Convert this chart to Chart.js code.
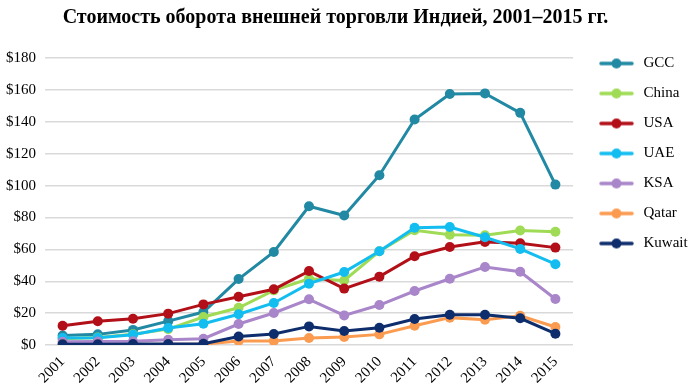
<!DOCTYPE html>
<html><head><meta charset="utf-8">
<script src="https://cdn.jsdelivr.net/npm/chart.js@4"></script>
<style>html,body{margin:0;padding:0;background:#fff}#wrap{width:693px;height:386px}</style>
</head><body><div id="wrap"><canvas id="c" width="693" height="386"></canvas></div>
<script>
const years = ['2001','2002','2003','2004','2005','2006','2007','2008','2009','2010','2011','2012','2013','2014','2015'];
const gcc    = [6, 6.7, 9.5, 15, 20.7, 41.4, 58.4, 87, 81.2, 106.5, 141.4, 157.4, 157.8, 145.6, 100.6];
const china  = [4, 4.8, 6.8, 10, 17.6, 23.4, 34.3, 41.6, 40.5, 58.8, 72, 69.2, 68.8, 71.8, 71.1];
const usa    = [12.1, 14.9, 16.5, 19.7, 25.5, 30.3, 35, 46.4, 35.4, 42.9, 55.7, 61.5, 64.7, 63.8, 61.1];
const uae    = [4.4, 4.6, 6.5, 10.7, 13.4, 19.3, 26.4, 38.5, 45.8, 58.8, 73.6, 74, 67.6, 60.3, 50.7];
const ksa    = [2, 2.2, 2.4, 3.3, 4, 13.2, 20.1, 28.7, 18.6, 25.1, 33.9, 41.6, 49, 46, 28.9];
const qatar  = [0.3, 0.3, 0.4, 0.5, 0.6, 2.5, 2.6, 4.4, 5, 6.7, 12.1, 17.2, 15.9, 18.4, 11.3];
const kuwait = [0.5, 0.5, 0.6, 0.7, 0.8, 5.4, 6.9, 11.7, 8.8, 10.9, 16.3, 19, 19, 16.8, 7.1];
const seriesNames = ['GCC','China','USA','UAE','KSA','Qatar','Kuwait'];
const seriesData = [gcc, china, usa, uae, ksa, qatar, kuwait];
const colors = ['#2189a3','#9fdb55','#b20f18','#13bdf0','#a985c9','#fb9b50','#0e2d6c'];
const yTicks = [0,20,40,60,80,100,120,140,160,180];

function legendIcon(color){
  const cv = document.createElement('canvas');
  cv.width = 48; cv.height = 12;
  const g = cv.getContext('2d');
  g.strokeStyle = color; g.lineWidth = 3.5; g.lineCap = 'round';
  g.beginPath(); g.moveTo(13,6); g.lineTo(44,6); g.stroke();
  g.fillStyle = color; g.beginPath(); g.arc(28.5,6,5,0,Math.PI*2); g.fill();
  return cv;
}
const icons = colors.map(legendIcon);

const serif = "'Liberation Serif','DejaVu Serif',serif";
new Chart(document.getElementById('c'), {
  type: 'line',
  data: {
    labels: years,
    datasets: seriesNames.map((n,i)=>({
      label: n, data: seriesData[i], borderColor: colors[i], backgroundColor: colors[i],
      borderWidth: 3, pointRadius: 5, pointHoverRadius: 5, pointBorderWidth: 0,
      tension: 0, order: 7 - i
    }))
  },
  options: {
    responsive: false, animation: false,
    layout: { padding: { left: -22, right: 0, top: 6, bottom: -1 } },
    plugins: {
      title: { display: true, text: 'Стоимость оборота внешней торговли Индией, 2001–2015 гг.',
        color: '#000', font: { family: serif, size: 20, weight: 'bold' }, padding: { top: 0, bottom: 28 } },
      legend: { position: 'right', align: 'start', maxWidth: 120,
        title: { display: true, text: '', font: { size: 10 }, padding: { top: 0, bottom: 23 } },
        labels: { usePointStyle: true, pointStyleWidth: 48, boxHeight: 12, padding: 15,
          color: '#000', font: { family: serif, size: 15 },
          generateLabels: (chart) => chart.data.datasets.map((d,i)=>({
            text: d.label, pointStyle: icons[i], fillStyle: colors[i], strokeStyle: colors[i],
            lineWidth: 0, hidden: false, datasetIndex: i, fontColor: '#000'
          }))
        } },
      tooltip: { enabled: false }
    },
    scales: {
      x: { offset: true, grid: { display: false }, border: { display: false },
        ticks: { minRotation: 45, maxRotation: 45, color: '#000', font: { family: serif, size: 15 }, padding: 0 } },
      y: { min: 0, max: 180, afterBuildTicks: (ax)=>{ ax.ticks = yTicks.map(v=>({value:v})); },
        afterFit: (ax)=>{ ax.width = 67; },
        grid: { color: '#d9d9d9', lineWidth: 1.5, drawTicks: false }, border: { display: false },
        ticks: { color: '#000', font: { family: serif, size: 15 }, padding: 9, callback: v => '$' + v } }
    }
  }
});
</script></body></html>
